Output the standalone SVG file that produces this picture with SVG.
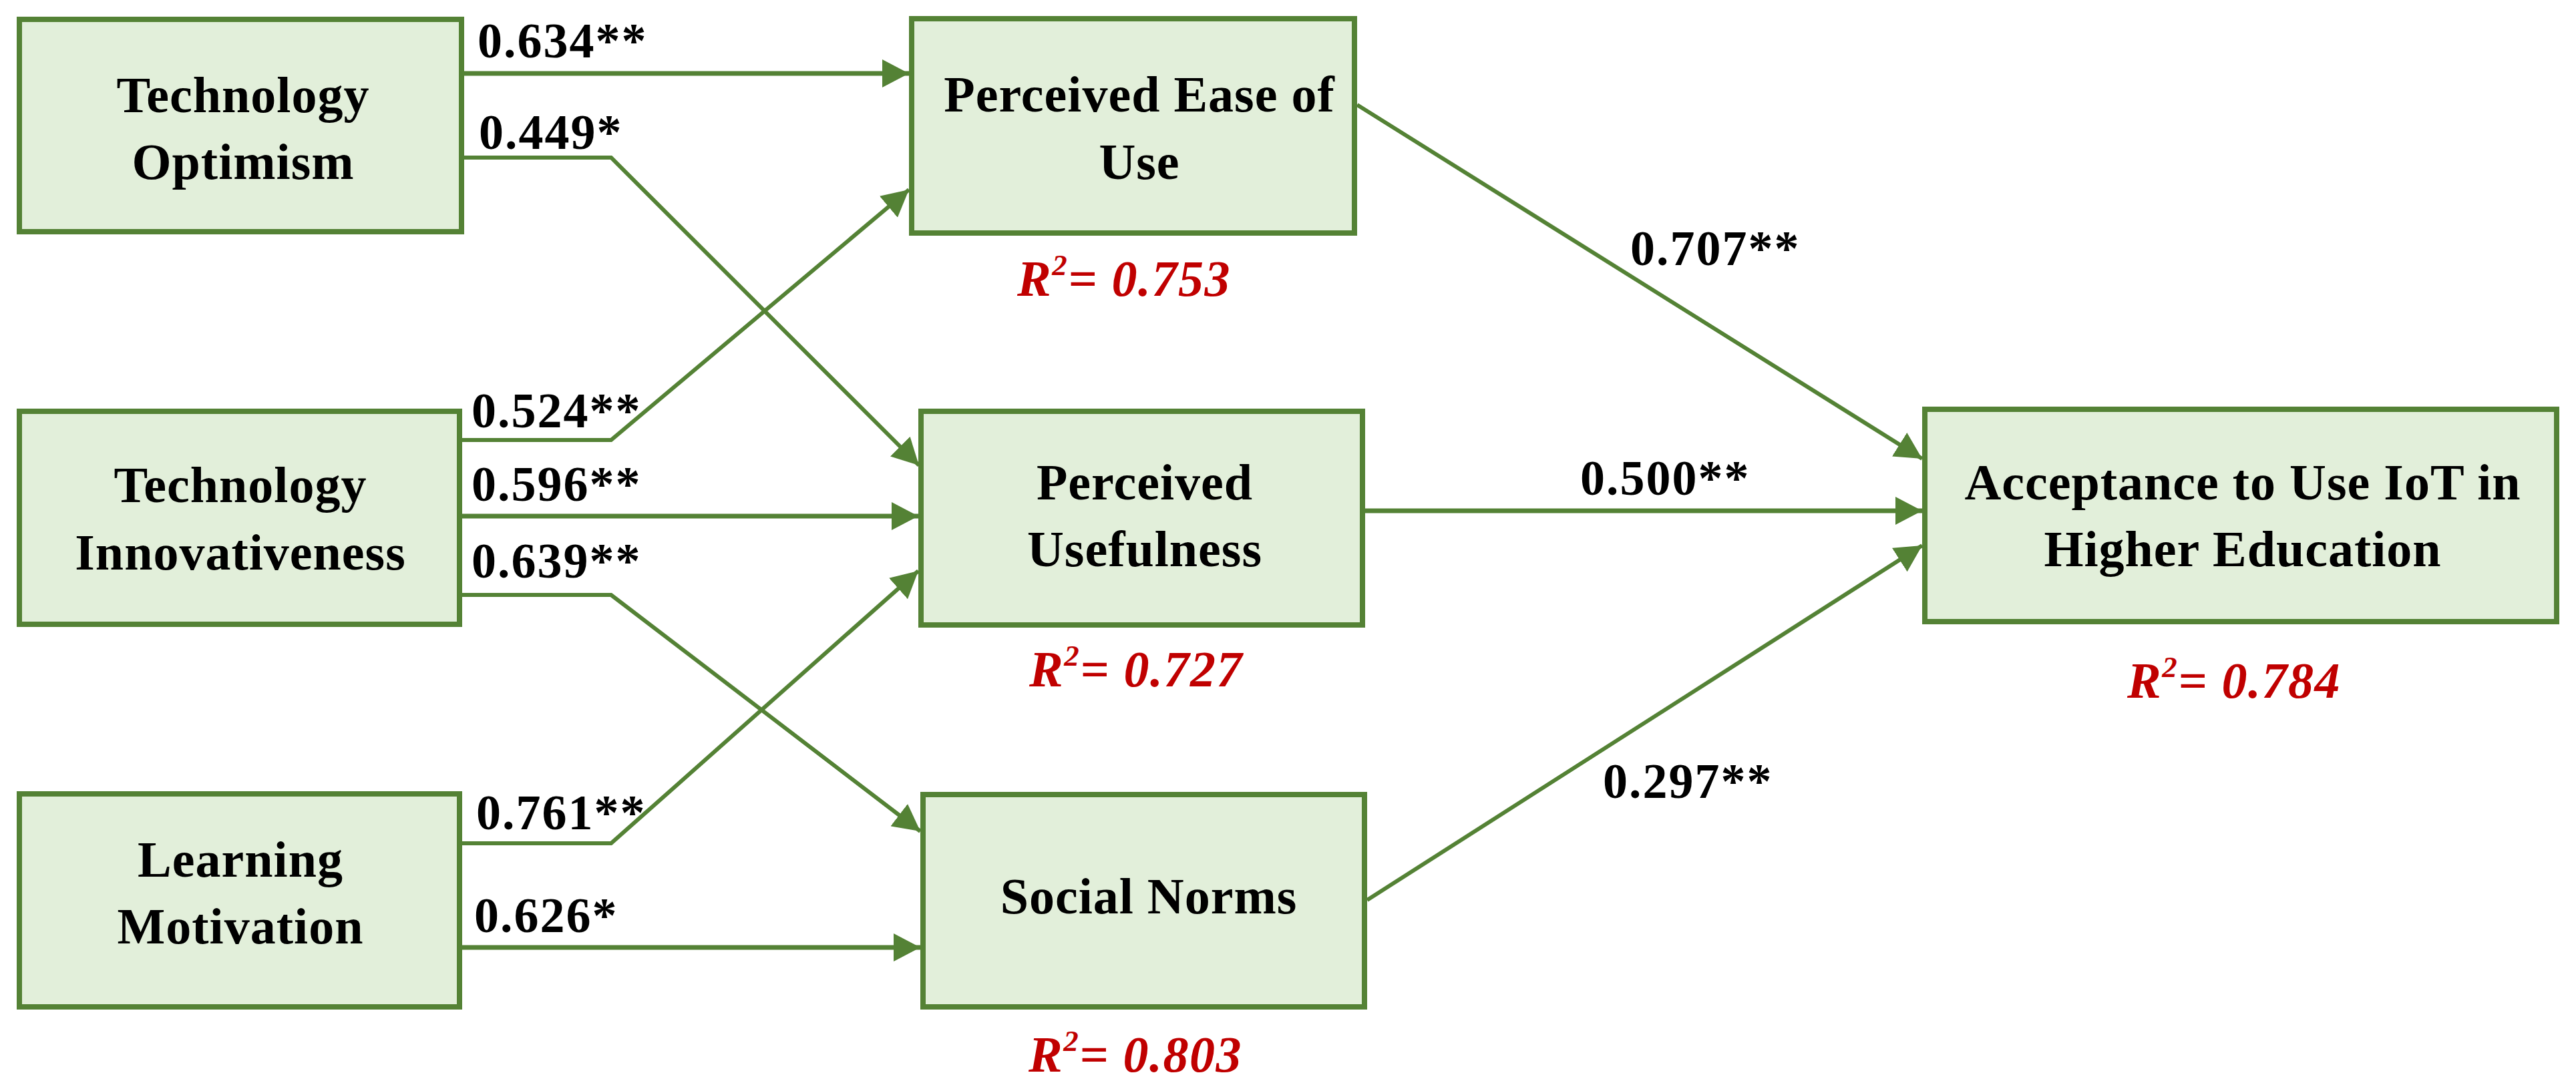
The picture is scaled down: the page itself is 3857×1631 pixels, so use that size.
<svg xmlns="http://www.w3.org/2000/svg" width="3857" height="1631" viewBox="0 0 3857 1631">
<style>
.box{fill:#E2EFDA;stroke:#548235;stroke-width:8}
.lbl{font-family:"Liberation Serif","Times New Roman",serif;font-weight:bold;font-size:76px;fill:#000;text-anchor:middle;letter-spacing:1px}
.coef{font-family:"Liberation Serif","Times New Roman",serif;font-weight:bold;font-size:74px;fill:#000;letter-spacing:2px}
.r2{font-family:"Liberation Serif","Times New Roman",serif;font-weight:bold;font-style:italic;font-size:76px;fill:#C00000;letter-spacing:1.5px}
.ln{fill:none;stroke:#548235;stroke-width:7;marker-end:url(#ah)}
.dg{fill:none;stroke:#548235;stroke-width:6;stroke-linejoin:miter;marker-end:url(#ah)}
</style>
<defs>
<marker id="ah" markerUnits="userSpaceOnUse" markerWidth="42" markerHeight="42" refX="40" refY="21" orient="auto">
<path d="M0,0 L40,21 L0,42 z" fill="#548235"/>
</marker>
</defs>
<rect width="3857" height="1631" fill="#fff"/>
<g id="connectors">
<path class="ln" d="M691,110 L1361,110"/>
<path class="dg" d="M691,236 L915,236 L1376,697"/>
<path class="dg" d="M689,659 L915,659 L1361,284"/>
<path class="ln" d="M689,773 L1375,773"/>
<path class="dg" d="M689,891 L915,891 L1378,1245"/>
<path class="dg" d="M689,1263 L915,1263 L1375,855"/>
<path class="ln" d="M689,1419 L1378,1419"/>
<path class="dg" d="M2032,157 L2878,687"/>
<path class="ln" d="M2044,765 L2878,765"/>
<path class="dg" d="M2047,1348 L2878,817"/>
</g>
<g id="coefficients">
<text class="coef" x="715" y="86">0.634**</text>
<text class="coef" x="717" y="223">0.449*</text>
<text class="coef" x="706" y="640">0.524**</text>
<text class="coef" x="706" y="750">0.596**</text>
<text class="coef" x="706" y="865">0.639**</text>
<text class="coef" x="713" y="1242">0.761**</text>
<text class="coef" x="710" y="1396">0.626*</text>
<text class="coef" x="2441" y="397">0.707**</text>
<text class="coef" x="2366" y="741">0.500**</text>
<text class="coef" x="2400" y="1195">0.297**</text>
</g>
<g id="node-technology-optimism">
<rect class="box" x="29" y="29" width="662" height="318"/>
<text class="lbl" x="364" y="168">Technology</text>
<text class="lbl" x="364" y="268">Optimism</text>
</g>
<g id="node-technology-innovativeness">
<rect class="box" x="29" y="616" width="659" height="319"/>
<text class="lbl" x="360" y="752">Technology</text>
<text class="lbl" x="360" y="853">Innovativeness</text>
</g>
<g id="node-learning-motivation">
<rect class="box" x="29" y="1189" width="659" height="319"/>
<text class="lbl" x="360" y="1313">Learning</text>
<text class="lbl" x="360" y="1413">Motivation</text>
</g>
<g id="node-perceived-ease-of-use">
<rect class="box" x="1365" y="28" width="663" height="321"/>
<text class="lbl" x="1706" y="167">Perceived Ease of</text>
<text class="lbl" x="1706" y="268">Use</text>
<text class="r2" x="1523" y="443">R<tspan font-size="45" dy="-31">2</tspan><tspan dy="31">= 0.753</tspan></text>
</g>
<g id="node-perceived-usefulness">
<rect class="box" x="1379" y="616" width="661" height="320"/>
<text class="lbl" x="1714" y="748">Perceived</text>
<text class="lbl" x="1714" y="848">Usefulness</text>
<text class="r2" x="1541" y="1028">R<tspan font-size="45" dy="-31">2</tspan><tspan dy="31">= 0.727</tspan></text>
</g>
<g id="node-social-norms">
<rect class="box" x="1382" y="1190" width="661" height="318"/>
<text class="lbl" x="1720" y="1368">Social Norms</text>
<text class="r2" x="1540" y="1605">R<tspan font-size="45" dy="-31">2</tspan><tspan dy="31">= 0.803</tspan></text>
</g>
<g id="node-acceptance">
<rect class="box" x="2882" y="613" width="946" height="318"/>
<text class="lbl" x="3358" y="748">Acceptance to Use IoT in</text>
<text class="lbl" x="3358" y="848">Higher Education</text>
<text class="r2" x="3185" y="1045">R<tspan font-size="45" dy="-31">2</tspan><tspan dy="31">= 0.784</tspan></text>
</g>
</svg>
